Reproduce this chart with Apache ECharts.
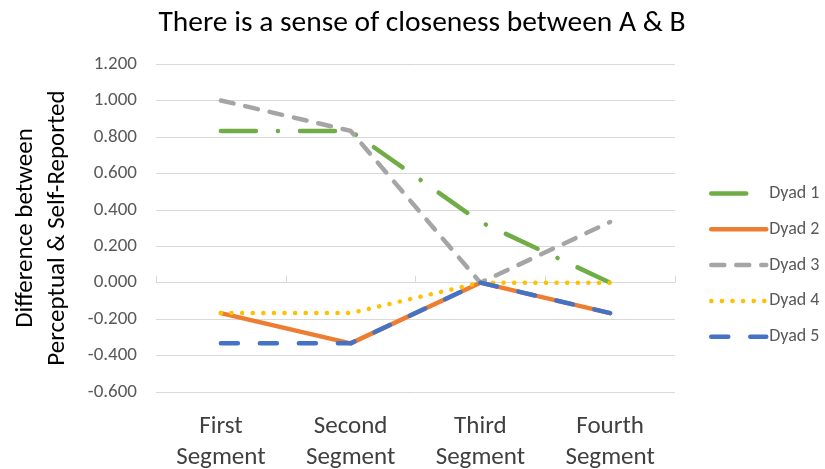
<!DOCTYPE html>
<html>
<head>
<meta charset="utf-8">
<script src="https://cdn.jsdelivr.net/npm/echarts@6/dist/echarts.min.js"></script>
<style>
  html, body { margin: 0; padding: 0; background: #fff; }
  #chart { width: 825px; height: 469px; }
</style>
</head>
<body>
<div id="chart"></div>
<script>
// Segments along the x axis and each dyad's perceptual minus self-reported difference
const categories = ['First\nSegment', 'Second\nSegment', 'Third\nSegment', 'Fourth\nSegment'];
const seriesNames = ['Dyad 1', 'Dyad 2', 'Dyad 3', 'Dyad 4', 'Dyad 5'];
const dyad1 = [0.833, 0.833, 0.333, 0.000];
const dyad2 = [-0.167, -0.333, 0.000, -0.167];
const dyad3 = [1.000, 0.833, 0.000, 0.333];
const dyad4 = [-0.167, -0.167, 0.000, 0.000];
const dyad5 = [-0.333, -0.333, 0.000, -0.167];
const yTicks = { min: -0.6, max: 1.2, interval: 0.2 };

const font = 'Calibri, Carlito, "Noto Sans", "Liberation Sans", sans-serif';
const LW = 4.5;

function lineSeries(name, data, color, dash) {
  return {
    name: name,
    type: 'line',
    data: data,
    symbol: 'none',
    lineStyle: { color: color, width: LW, type: dash, cap: 'round', join: 'round' },
    itemStyle: { color: color }
  };
}

// one legend block per dyad so the rows sit on an even pitch
const legends = seriesNames.map((name, i) => ({
  orient: 'vertical',
  left: 709, top: 184.5 + i * 35.8,
  padding: 0,
  itemWidth: 55, itemHeight: 18,
  data: [name],
  itemStyle: { opacity: 0 },
  lineStyle: { width: LW },
  textStyle: { fontFamily: font, fontSize: 18, lineHeight: 18, color: '#595959', padding: [0, 0, 0, -2] }
}));

const chart = echarts.init(document.getElementById('chart'), null, { renderer: 'canvas' });
chart.setOption({
  animation: false,
  backgroundColor: '#fff',
  title: {
    text: 'There is a sense of closeness between A & B',
    left: 417, top: 4, textAlign: 'center',
    textStyle: { fontFamily: font, fontSize: 29.5, fontWeight: 'normal', color: '#000' }
  },
  legend: legends,
  grid: { left: 156, right: 150, top: 64, bottom: 77, outerBoundsMode: 'none', containLabel: false },
  xAxis: [
    {
      type: 'category', data: categories, boundaryGap: true,
      axisLine: { show: false, onZero: false },
      axisTick: { show: false },
      axisLabel: { margin: 19, fontFamily: font, fontSize: 25, color: '#404040', lineHeight: 31 }
    },
    {
      type: 'category', data: categories, boundaryGap: true,
      axisLine: { show: true, onZero: true, lineStyle: { color: '#d9d9d9', width: 1 } },
      axisTick: { show: true, length: 7, lineStyle: { color: '#d9d9d9' } },
      axisLabel: { show: false }
    }
  ],
  yAxis: {
    type: 'value', min: yTicks.min, max: yTicks.max, interval: yTicks.interval,
    name: 'Difference between\nPerceptual & Self-Reported',
    nameLocation: 'middle', nameRotate: 90, nameGap: 82,
    nameTextStyle: { fontFamily: font, fontSize: 25, color: '#000', lineHeight: 32 },
    axisLine: { show: false }, axisTick: { show: false },
    axisLabel: {
      margin: 19, fontFamily: font, fontSize: 19, color: '#595959',
      formatter: v => v.toFixed(3)
    },
    splitLine: { lineStyle: { color: '#d9d9d9', width: 1 } }
  },
  series: [
    lineSeries('Dyad 1', dyad1, '#70AD47', [35, 22, 0.1, 22]),
    lineSeries('Dyad 2', dyad2, '#ED7D31', 'solid'),
    lineSeries('Dyad 3', dyad3, '#A5A5A5', [13, 12]),
    lineSeries('Dyad 4', dyad4, '#FFC000', [0.1, 10.5]),
    lineSeries('Dyad 5', dyad5, '#4472C4', [17, 22])
  ]
});
</script>
</body>
</html>
